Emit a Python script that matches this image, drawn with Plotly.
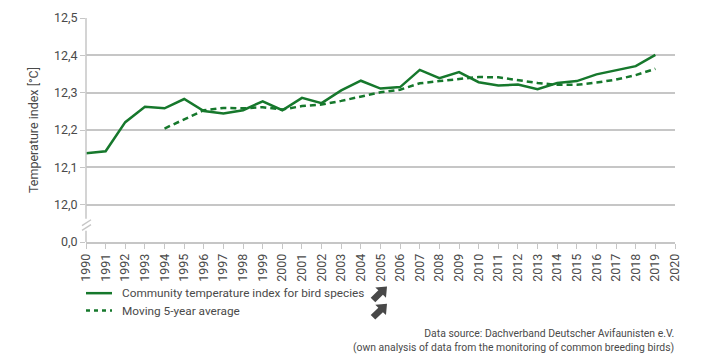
import plotly.graph_objects as go
import math

years = list(range(1990, 2020))
cti = [12.138, 12.143, 12.221, 12.262, 12.258, 12.283, 12.251, 12.244, 12.253, 12.277,
       12.253, 12.286, 12.272, 12.306, 12.332, 12.311, 12.315, 12.361, 12.339, 12.355,
       12.328, 12.319, 12.322, 12.309, 12.326, 12.331, 12.349, 12.359, 12.371, 12.401]
avg_years = list(range(1994, 2020))
avg = [12.204, 12.229, 12.253, 12.259, 12.258, 12.261, 12.255, 12.264, 12.268, 12.278,
       12.289, 12.301, 12.308, 12.325, 12.331, 12.337, 12.342, 12.341, 12.333, 12.326,
       12.321, 12.321, 12.327, 12.335, 12.347, 12.364]
ytick_vals = [11.9, 12.0, 12.1, 12.2, 12.3, 12.4, 12.5]
ytick_text = ["0,0", "12,0", "12,1", "12,2", "12,3", "12,4", "12,5"]
xtick_vals = list(range(1990, 2021))
legend_labels = ["Community temperature index for bird species", "Moving 5-year average"]
source_lines = ["Data source: Dachverband Deutscher Avifaunisten e.V.",
                "(own analysis of data from the monitoring of common breeding birds)"]

GREEN = "#16782c"
GRID = "#c6c6c6"
TXT = "#4a4a4a"
FONT = "Roboto"
DASH = "6px,4px"

W, H = 707, 354
ML, MR, MT, MB = 86, 32, 10, 112
PW, PH = W - ML - MR, H - MT - MB


def px(x):
    return (x - ML) / PW


def py(y):
    return (H - MB - y) / PH


fig = go.Figure()
fig.add_trace(go.Scatter(x=years, y=cti, mode="lines", line=dict(color=GREEN, width=2.5),
                         showlegend=False, cliponaxis=False))
fig.add_trace(go.Scatter(x=avg_years, y=avg, mode="lines",
                         line=dict(color=GREEN, width=2.5, dash=DASH),
                         showlegend=False, cliponaxis=False))

shapes = []
# y axis line with break
shapes.append(dict(type="line", xref="paper", yref="y", x0=0, x1=0, y0=12.5, y1=11.962,
                   line=dict(color=GRID, width=1.5)))
shapes.append(dict(type="line", xref="paper", yref="y", x0=0, x1=0, y0=11.93, y1=11.9,
                   line=dict(color=GRID, width=1.5)))
for dy in (0, 5):
    shapes.append(dict(type="line", xref="paper", yref="paper",
                       x0=px(82), x1=px(91), y0=py(225 + dy), y1=py(219 + dy),
                       line=dict(color=GRID, width=1.3)))

# legend samples
shapes.append(dict(type="line", xref="paper", yref="paper", x0=px(86), x1=px(112),
                   y0=py(295), y1=py(295), line=dict(color=GREEN, width=2.5)))
shapes.append(dict(type="line", xref="paper", yref="paper", x0=px(86), x1=px(112),
                   y0=py(313), y1=py(313), line=dict(color=GREEN, width=2.5, dash="4px,4px")))


def arrow_path(cx, cy, s=18):
    # arrow pointing right, then rotated to point up-right
    pts = [(-0.55, -0.18), (0.05, -0.18), (0.05, -0.42), (0.55, 0), (0.05, 0.42),
           (0.05, 0.18), (-0.55, 0.18)]
    a = math.radians(-45)
    out = []
    for (u, v) in pts:
        x = cx + s * (u * math.cos(a) - v * math.sin(a))
        y = cy + s * (u * math.sin(a) + v * math.cos(a))
        out.append((px(x), py(y)))
    return "M " + " L ".join(f"{x:.5f},{y:.5f}" for x, y in out) + " Z"


for cy in (295, 313):
    shapes.append(dict(type="path", xref="paper", yref="paper", path=arrow_path(380, cy),
                       fillcolor="#484848", line=dict(width=0)))

annotations = []
for i, lab in enumerate(legend_labels):
    annotations.append(dict(text=lab, xref="paper", yref="paper", x=px(120), y=py(295 + 18 * i),
                            xanchor="left", yanchor="middle", showarrow=False,
                            font=dict(family=FONT, size=11.8, color=TXT)))
annotations.append(dict(text="<br>".join(source_lines), xref="paper", yref="paper",
                        x=px(676), y=py(344), xanchor="right", yanchor="middle", align="right",
                        showarrow=False, font=dict(family=FONT, size=10.4, color=TXT)))

fig.update_layout(
    width=W, height=H,
    margin=dict(l=ML, r=MR, t=MT, b=MB),
    paper_bgcolor="white", plot_bgcolor="white",
    font=dict(family=FONT, size=12, color=TXT),
    shapes=shapes, annotations=annotations,
    showlegend=False,
    xaxis=dict(range=[1990, 2020], tickvals=xtick_vals, tickangle=-90,
               showgrid=False, zeroline=False, showline=True, linecolor=GRID, linewidth=1.5,
               ticks="outside", ticklen=5, tickcolor=GRID, tickwidth=1,
               tickfont=dict(family=FONT, size=12.5, color=TXT)),
    yaxis=dict(range=[11.9, 12.5], tickvals=ytick_vals, ticktext=ytick_text,
               showgrid=True, gridcolor=GRID, gridwidth=1.5, zeroline=False, showline=False,
               ticks="outside", ticklen=5, tickcolor=GRID, tickwidth=1,
               tickfont=dict(family=FONT, size=12.5, color=TXT),
               title=dict(text="Temperature index [°C]", standoff=12,
                          font=dict(family=FONT, size=12.5, color=TXT))),
)

fig.write_html("out.html")
